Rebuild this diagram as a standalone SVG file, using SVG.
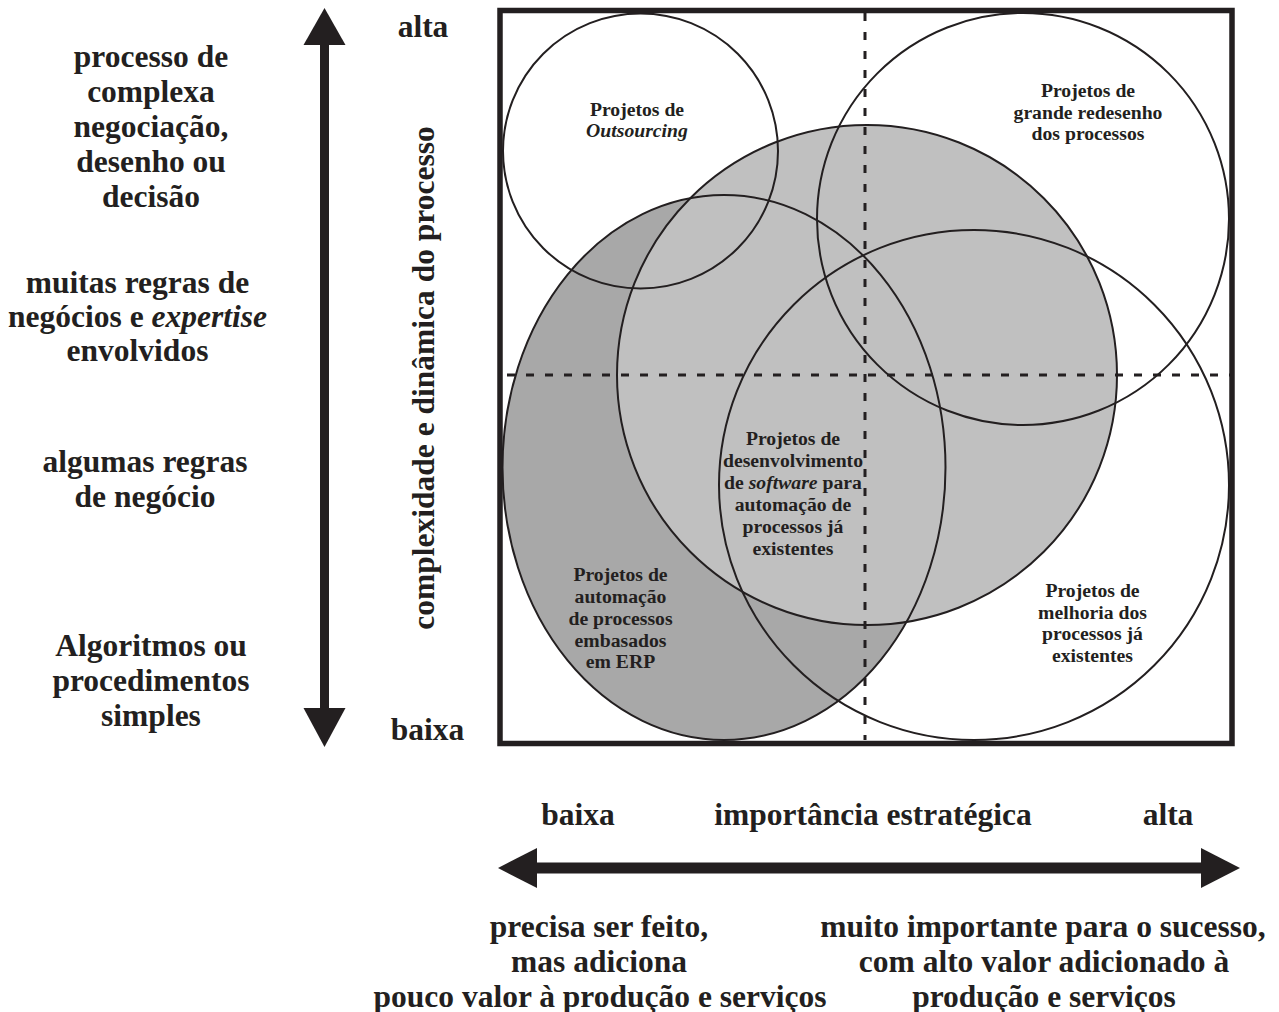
<svg xmlns="http://www.w3.org/2000/svg" width="1279" height="1012" viewBox="0 0 1279 1012">
<style>
  text { font-family: "Liberation Serif", "Times New Roman", serif; font-weight: bold; fill: #231f20; text-anchor: middle; }
  .big { font-size: 31.5px; }
  .small { font-size: 19.7px; }
  .it { font-style: italic; }
  .outline { fill: none; stroke: #231f20; stroke-width: 2; }
  .dash { fill: none; stroke: #231f20; stroke-width: 3; stroke-dasharray: 8 11; }
  .arrow { fill: #231f20; }
</style>
<rect width="1279" height="1012" fill="#ffffff"/>

<g id="fills">
  <ellipse cx="724" cy="467.5" rx="221.5" ry="272.5" fill="#a8a8a8"/>
  <circle cx="867" cy="375" r="250" fill="#c0c0c0"/>
</g>

<g id="node-erp">
  <ellipse class="outline" cx="724" cy="467.5" rx="221.5" ry="272.5"/>
  <text class="small" x="620.5" y="581">Projetos de</text>
  <text class="small" x="620.5" y="603">automação</text>
  <text class="small" x="620.5" y="625">de processos</text>
  <text class="small" x="620.5" y="647">embasados</text>
  <text class="small" x="620.5" y="668">em ERP</text>
</g>

<g id="node-software">
  <circle class="outline" cx="867" cy="375" r="250"/>
  <text class="small" x="793" y="445">Projetos de</text>
  <text class="small" x="793" y="467">desenvolvimento</text>
  <text class="small" x="793" y="489">de <tspan class="it">software</tspan> para</text>
  <text class="small" x="793" y="511">automação de</text>
  <text class="small" x="793" y="533">processos já</text>
  <text class="small" x="793" y="555">existentes</text>
</g>

<g id="node-outsourcing">
  <circle class="outline" cx="640.5" cy="151" r="137.5"/>
  <text class="small" x="637" y="116">Projetos de</text>
  <text class="small it" x="637" y="137">Outsourcing</text>
</g>

<g id="node-redesenho">
  <circle class="outline" cx="1023" cy="219" r="206"/>
  <text class="small" x="1088" y="97">Projetos de</text>
  <text class="small" x="1088" y="118.5">grande redesenho</text>
  <text class="small" x="1088" y="140">dos processos</text>
</g>

<g id="node-melhoria">
  <circle class="outline" cx="974" cy="485" r="255"/>
  <text class="small" x="1092.5" y="597">Projetos de</text>
  <text class="small" x="1092.5" y="618.5">melhoria dos</text>
  <text class="small" x="1092.5" y="640">processos já</text>
  <text class="small" x="1092.5" y="662">existentes</text>
</g>

<g id="quadrant-lines">
  <line class="dash" x1="507" y1="375" x2="1232" y2="375"/>
  <line class="dash" x1="865" y1="13" x2="865" y2="740"/>
</g>

<g id="frame">
  <rect x="500" y="10.5" width="732" height="733" fill="none" stroke="#231f20" stroke-width="5.5"/>
</g>

<g id="connectors">
  <rect class="arrow" x="320" y="44" width="9" height="665"/>
  <polygon class="arrow" points="324.5,8 345.5,45 303.5,45"/>
  <polygon class="arrow" points="324.5,747 345.5,708 303.5,708"/>
  <rect class="arrow" x="535" y="862.5" width="668" height="11"/>
  <polygon class="arrow" points="498,868 537,848 537,888"/>
  <polygon class="arrow" points="1240,868 1201,848 1201,888"/>
</g>

<g id="vertical-axis-labels">
  <text class="big" x="423" y="37">alta</text>
  <text class="big" x="427.5" y="740">baixa</text>
  <text class="big" transform="translate(434,378) rotate(-90)" x="0" y="0">complexidade e dinâmica do processo</text>
</g>

<g id="left-labels">
  <text class="big" x="151" y="67">processo de</text>
  <text class="big" x="151" y="102">complexa</text>
  <text class="big" x="151" y="137">negociação,</text>
  <text class="big" x="151" y="172">desenho ou</text>
  <text class="big" x="151" y="207">decisão</text>

  <text class="big" x="137.5" y="293">muitas regras de</text>
  <text class="big" x="137.5" y="327">negócios e <tspan class="it">expertise</tspan></text>
  <text class="big" x="137.5" y="361">envolvidos</text>

  <text class="big" x="145" y="472">algumas regras</text>
  <text class="big" x="145" y="507">de negócio</text>

  <text class="big" x="151" y="656">Algoritmos ou</text>
  <text class="big" x="151" y="691">procedimentos</text>
  <text class="big" x="151" y="726">simples</text>
</g>

<g id="horizontal-axis-labels">
  <text class="big" x="578" y="825">baixa</text>
  <text class="big" x="873" y="825">importância estratégica</text>
  <text class="big" x="1168" y="825">alta</text>
</g>

<g id="bottom-labels">
  <text class="big" x="599" y="937">precisa ser feito,</text>
  <text class="big" x="599" y="972">mas adiciona</text>
  <text class="big" x="600" y="1007">pouco valor à produção e serviços</text>
  <text class="big" x="1043" y="937">muito importante para o sucesso,</text>
  <text class="big" x="1044" y="972">com alto valor adicionado à</text>
  <text class="big" x="1044" y="1007">produção e serviços</text>
</g>
</svg>
